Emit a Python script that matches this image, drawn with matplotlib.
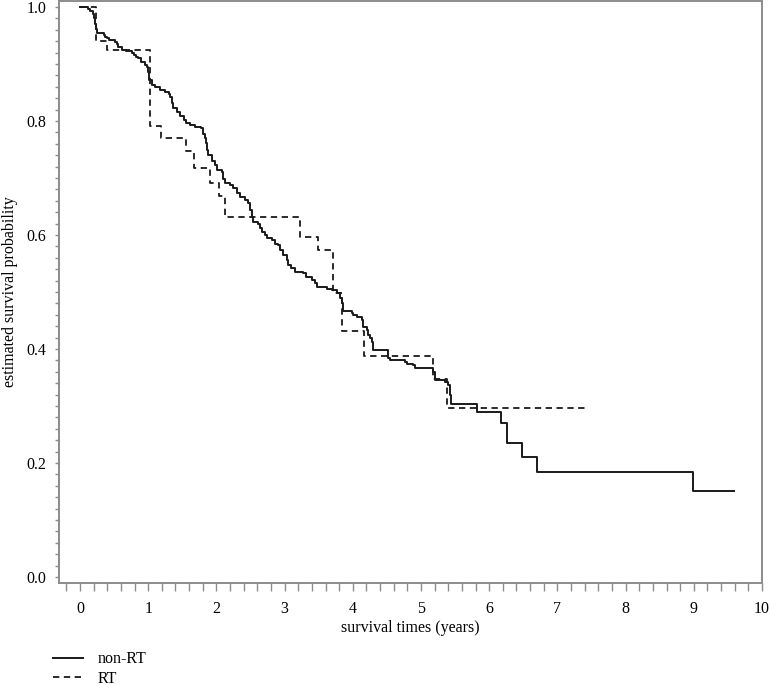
import matplotlib
matplotlib.use('Agg')
import matplotlib.pyplot as plt
from matplotlib.ticker import MultipleLocator

plt.rcParams['font.family'] = ['Liberation Serif', 'DejaVu Serif']

# Kaplan-Meier steps: (time of drop, survival after drop)
nonrt_t = [0.0, 0.12, 0.14, 0.19, 0.205, 0.22, 0.23, 0.244, 0.35, 0.37, 0.39, 0.42,
           0.51, 0.54, 0.56, 0.61, 0.68, 0.76, 0.79, 0.82, 0.855, 0.90, 0.95, 0.98,
           1.00, 1.012, 1.05, 1.10, 1.17, 1.25, 1.30, 1.32, 1.344, 1.368, 1.42, 1.47,
           1.52, 1.56, 1.61, 1.69, 1.78, 1.808, 1.833, 1.848, 1.867, 1.882, 1.93, 1.98,
           2.004, 2.077, 2.102, 2.126, 2.20, 2.25, 2.30, 2.35, 2.42, 2.47, 2.49, 2.517,
           2.54, 2.615, 2.64, 2.664, 2.713, 2.737, 2.81, 2.86, 2.91, 2.933, 2.98, 3.03,
           3.054, 3.10, 3.15, 3.27, 3.32, 3.40, 3.45, 3.47, 3.62, 3.69, 3.764, 3.812,
           3.837, 3.851, 3.99, 4.008, 4.057, 4.13, 4.154, 4.203, 4.228, 4.252, 4.277,
           4.291, 4.521, 4.545, 4.765, 4.79, 4.887, 4.912, 5.181, 5.205, 5.352, 5.40,
           5.425, 5.435, 5.816, 6.168, 6.256, 6.486, 6.696, 8.993]
nonrt_s = [1.0, 0.997, 0.993, 0.988, 0.980, 0.971, 0.962, 0.954, 0.951, 0.948, 0.945, 0.942,
           0.939, 0.935, 0.930, 0.925, 0.922, 0.919, 0.916, 0.913, 0.910, 0.904, 0.898, 0.895,
           0.886, 0.872, 0.863, 0.859, 0.854, 0.851, 0.847, 0.843, 0.831, 0.822, 0.816, 0.808,
           0.801, 0.797, 0.793, 0.790, 0.787, 0.778, 0.770, 0.761, 0.749, 0.740, 0.729, 0.723,
           0.714, 0.711, 0.699, 0.691, 0.688, 0.682, 0.673, 0.667, 0.661, 0.656, 0.644, 0.632,
           0.623, 0.620, 0.612, 0.606, 0.600, 0.594, 0.591, 0.585, 0.582, 0.574, 0.565, 0.556,
           0.547, 0.542, 0.536, 0.533, 0.527, 0.521, 0.515, 0.509, 0.506, 0.504, 0.498, 0.490,
           0.481, 0.466, 0.463, 0.460, 0.457, 0.451, 0.439, 0.433, 0.425, 0.419, 0.413,
           0.399, 0.384, 0.381, 0.378, 0.374, 0.372, 0.366, 0.360, 0.346, 0.343, 0.337,
           0.320, 0.303, 0.290, 0.271, 0.235, 0.210, 0.185, 0.151]
nonrt_end = 9.589

rt_t = [0.0, 0.235, 0.39, 1.026, 1.188, 1.554, 1.672, 1.906, 2.043, 2.126, 3.226,
        3.485, 3.705, 3.837, 4.17, 5.18, 5.386]
rt_s = [1.0, 0.941, 0.925, 0.791, 0.770, 0.748, 0.718, 0.692, 0.668, 0.632, 0.597,
        0.574, 0.498, 0.432, 0.388, 0.347, 0.296]
rt_end = 7.47

fig = plt.figure(figsize=(7.7, 6.86), dpi=100)
ax = fig.add_axes([0.0766, 0.1501, 0.913, 0.8484])

l1, = ax.step(nonrt_t + [nonrt_end], nonrt_s + [nonrt_s[-1]], where='post',
              color='#1a1a1a', lw=1.4)
l2, = ax.step(rt_t + [rt_end], rt_s + [rt_s[-1]], where='post',
              color='#1a1a1a', lw=1.3, ls=(0, (3.5, 2.5)))

ax.set_xlim(-0.308, 10)
ax.set_ylim(-0.0105, 1.0105)
ax.xaxis.set_major_locator(MultipleLocator(1))
ax.xaxis.set_minor_locator(MultipleLocator(0.2))
ax.yaxis.set_major_locator(MultipleLocator(0.2))
ax.yaxis.set_minor_locator(MultipleLocator(0.02))
ax.yaxis.set_major_formatter(plt.FuncFormatter(lambda v, p: '%.1f' % v))

for s in ax.spines.values():
    s.set_color('#8c8c8c')
    s.set_linewidth(1.4)
ax.tick_params(which='both', color='#8c8c8c', labelsize=11.5, labelcolor='black')
ax.tick_params(axis='x', which='both', length=6, width=1, pad=7)
ax.tick_params(axis='y', which='both', length=3, width=1, pad=6)

ax.set_xlabel('survival times (years)', fontsize=11.5, labelpad=2)
ax.set_ylabel('estimated survival probability', fontsize=11.5, labelpad=6)

fig.legend([l1, l2], ['non-RT', 'RT'], loc='upper left',
           bbox_to_anchor=(0.06, 0.06), frameon=False, fontsize=11.5,
           handlelength=1.9, handletextpad=0.9, labelspacing=0.22, borderaxespad=0)

fig.savefig('out.png', dpi=100)
